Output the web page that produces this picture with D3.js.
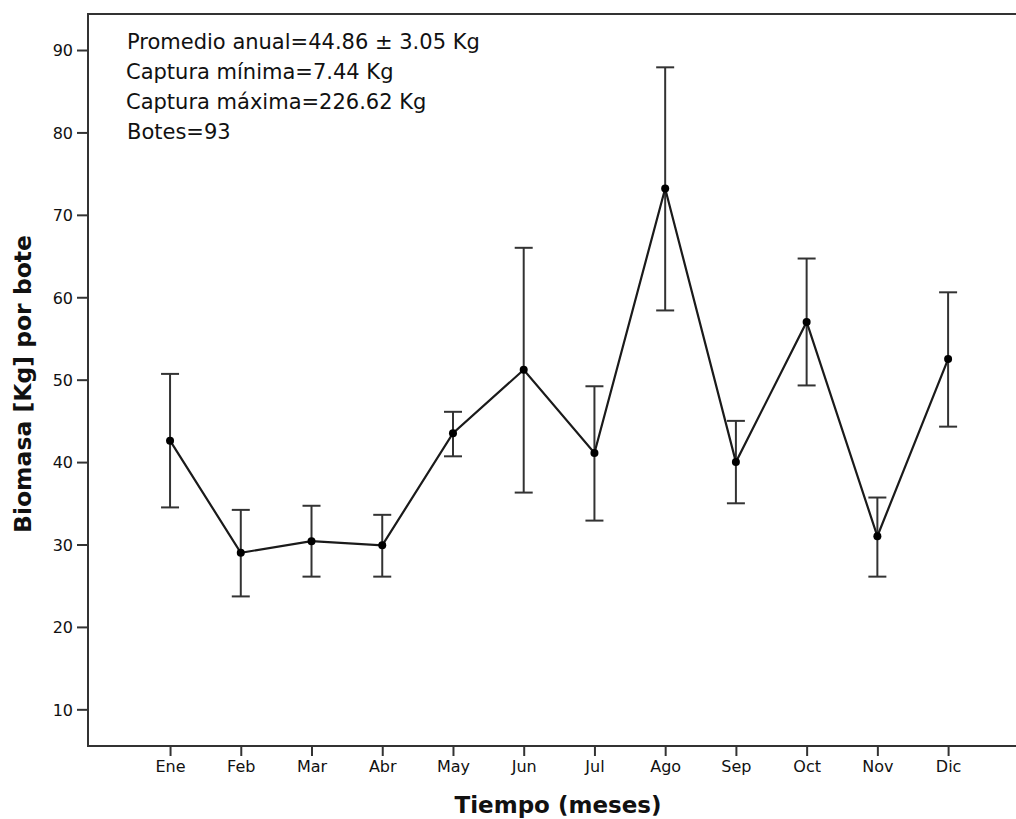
<!DOCTYPE html>
<html>
<head>
<meta charset="utf-8">
<script src="https://cdn.jsdelivr.net/npm/d3@7"></script>
<style>
  body { margin: 0; background: #fff; }
  text { font-family: "DejaVu Sans", sans-serif; fill: #111; }
</style>
</head>
<body>
<div id="chart"></div>
<script>
let svgWidth = 1016;
let svgHeight = 819;

// data
let months = ["Ene", "Feb", "Mar", "Abr", "May", "Jun", "Jul", "Ago", "Sep", "Oct", "Nov", "Dic"];
let means = [42.6, 29.0, 30.4, 29.9, 43.5, 51.2, 41.1, 73.2, 40.0, 57.0, 31.0, 52.5];
let upper = [50.7, 34.2, 34.7, 33.6, 46.1, 66.0, 49.2, 87.9, 45.0, 64.7, 35.7, 60.6];
let lower = [34.5, 23.7, 26.1, 26.1, 40.7, 36.3, 32.9, 58.4, 35.0, 49.3, 26.1, 44.3];
let yTicks = [10, 20, 30, 40, 50, 60, 70, 80, 90];
let notes = ["Promedio anual=44.86 ± 3.05 Kg", "Captura mínima=7.44 Kg", "Captura máxima=226.62 Kg", "Botes=93"];

let margin = { top: 14, right: 0, bottom: 73, left: 88 };
let width = svgWidth - margin.left - margin.right;
let height = svgHeight - margin.top - margin.bottom;

let data = months.map((m, i) => ({ m: m, i: i, mean: means[i], hi: upper[i], lo: lower[i] }));

let svg = d3.select("#chart")
  .append("svg")
  .attr("width", svgWidth)
  .attr("height", svgHeight);

let chartGroup = svg.append("g")
  .attr("transform", `translate(${margin.left}, ${margin.top})`);

let x = d3.scaleLinear()
  .domain([-1.16, 11.96])
  .range([0, width]);

let y = d3.scaleLinear()
  .domain([5.55, 94.37])
  .range([height, 0]);

// frame: left, bottom and top lines
chartGroup.append("path")
  .attr("d", `M${width},0H0V${height}H${width}`)
  .attr("fill", "none")
  .attr("stroke", "#333")
  .attr("stroke-width", 2);

let leftAxis = d3.axisLeft(y).tickValues(yTicks).tickSize(11).tickPadding(4);
let bottomAxis = d3.axisBottom(x)
  .tickValues(d3.range(months.length))
  .tickFormat(i => months[i])
  .tickSize(10).tickPadding(5);

let yAxisG = chartGroup.append("g").call(leftAxis);
let xAxisG = chartGroup.append("g")
  .attr("transform", `translate(0, ${height})`)
  .call(bottomAxis);

[yAxisG, xAxisG].forEach(g => {
  g.select(".domain").remove();
  g.selectAll(".tick line").attr("stroke", "#333").attr("stroke-width", 2);
  g.selectAll(".tick text")
    .attr("font-family", "DejaVu Sans")
    .attr("font-size", 16)
    .attr("fill", "#111");
});
yAxisG.selectAll(".tick text").attr("dy", "0.36em");

// error bars
let bars = chartGroup.append("g")
  .selectAll("g")
  .data(data)
  .enter()
  .append("g")
  .attr("stroke", "#333")
  .attr("stroke-width", 2);

bars.append("line")
  .attr("x1", d => x(d.i)).attr("x2", d => x(d.i))
  .attr("y1", d => y(d.hi)).attr("y2", d => y(d.lo));
bars.append("line")
  .attr("x1", d => x(d.i) - 9).attr("x2", d => x(d.i) + 9)
  .attr("y1", d => y(d.hi)).attr("y2", d => y(d.hi));
bars.append("line")
  .attr("x1", d => x(d.i) - 9).attr("x2", d => x(d.i) + 9)
  .attr("y1", d => y(d.lo)).attr("y2", d => y(d.lo));

// mean line
let line = d3.line()
  .x(d => x(d.i))
  .y(d => y(d.mean));

chartGroup.append("path")
  .datum(data)
  .attr("d", line)
  .attr("fill", "none")
  .attr("stroke", "#1a1a1a")
  .attr("stroke-width", 2.2);

chartGroup.selectAll("circle")
  .data(data)
  .enter()
  .append("circle")
  .attr("cx", d => x(d.i))
  .attr("cy", d => y(d.mean))
  .attr("r", 4)
  .attr("fill", "#000");

// annotation box text
chartGroup.append("g")
  .selectAll("text")
  .data(notes)
  .enter()
  .append("text")
  .attr("x", (d, i) => i === 0 || i === 3 ? 39 : 38)
  .attr("y", (d, i) => 35 + i * 30)
  .attr("font-size", 21)
  .text(d => d);

// axis titles
chartGroup.append("text")
  .attr("transform", "rotate(-90)")
  .attr("x", 0 - 370)
  .attr("y", 0 - margin.left + 31)
  .attr("text-anchor", "middle")
  .attr("font-weight", "bold")
  .attr("font-size", 23.5)
  .text("Biomasa [Kg] por bote");

chartGroup.append("text")
  .attr("x", 558 - margin.left)
  .attr("y", height + 67)
  .attr("text-anchor", "middle")
  .attr("font-weight", "bold")
  .attr("font-size", 23)
  .text("Tiempo (meses)");
</script>
</body>
</html>
